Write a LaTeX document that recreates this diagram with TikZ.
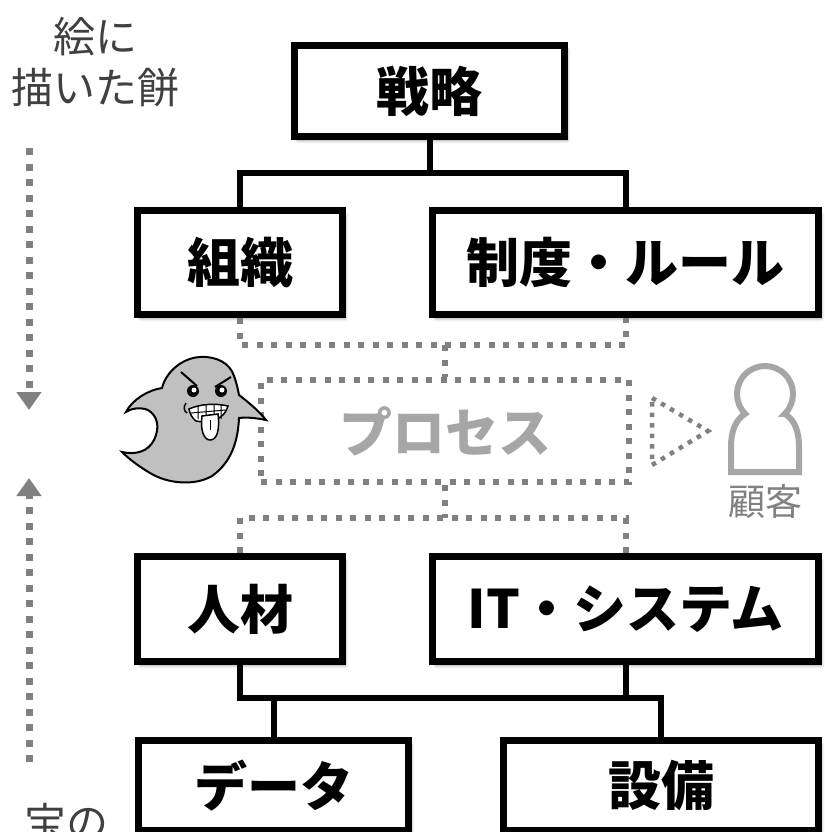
\documentclass[tikz,border=0pt]{standalone}
\usepackage{fontspec}
\usepackage{tikz}
\usetikzlibrary{positioning,arrows.meta,shadows.blur}

\newfontfamily\jpfont{Noto Sans CJK JP}
\definecolor{dotgray}{HTML}{808080}
\definecolor{procgray}{HTML}{A6A6A6}
\definecolor{notegray}{HTML}{404040}
\definecolor{ghostgray}{HTML}{C0C0C0}

\begin{document}
\begin{tikzpicture}[x=1pt, y=-1pt, line join=miter, on grid,
    box/.style={draw, line width=7pt, fill=white, inner sep=0pt,
      font=\jpfont\bfseries\fontsize{53}{60}\selectfont,
      blur shadow={shadow xshift=3pt, shadow yshift=-4pt,
        shadow blur radius=3pt, shadow opacity=40}},
    link/.style={line width=6pt},
    flow/.style={draw=dotgray, line width=6pt, dash pattern=on 6pt off 8.5pt},
    side/.style={draw=dotgray, line width=7pt, dash pattern=on 7pt off 8.5pt,
      -{Triangle[width=24pt, length=18pt, fill=dotgray]}},
    note/.style={text=notegray, align=center, inner sep=0pt,
      font=\jpfont\fontsize{42}{51}\selectfont}]

   \useasboundingbox (0,0) rectangle (824,832);

   \node[box, minimum width=270pt, minimum height=91pt] (strategy) at (429.5,91) {戦略};
   \node[box, minimum width=205pt, minimum height=104pt] (org) at (240,262.5) {組織};
   \node[box, minimum width=386pt, minimum height=104pt, right=385.5pt of org] (rules) {制度・ルール};
   \node[box, minimum width=205pt, minimum height=105pt, below=346.5pt of org] (staff) {人材};
   \node[box, minimum width=386pt, minimum height=105pt, below=346.5pt of rules] (it) {IT・システム};
   \node[box, minimum width=270pt, minimum height=90pt] (data) at (273.5,785.5) {データ};
   \node[box, minimum width=315pt, minimum height=90pt] (equip) at (661,785.5) {設備};

   \node[flow, minimum width=368pt, minimum height=102pt, inner sep=0pt, text=procgray,
     font=\jpfont\bfseries\fontsize{53}{60}\selectfont] (process) at (445,431) {プロセス};

   \coordinate (topbus) at (429.5,173);
   \coordinate (lowbus) at (0,698);
   \coordinate (upjoin) at (445,345);
   \coordinate (downjoin) at (445,518);

   \draw[link] (strategy) -- (topbus);
   \draw[link] (org.north) |- (topbus) -| (rules.north);
   \draw[link] (staff.south) -- (staff.south |- lowbus) -- (equip.north |- lowbus) -- (equip.north);
   \draw[link] (it.south) -- (it.south |- lowbus);
   \draw[link] (data.north) -- (data.north |- lowbus);

   \draw[flow] (org.south) |- (upjoin) -| (rules.south);
   \draw[flow] (upjoin) -- (process.north);
   \draw[flow] (process.south) -- (downjoin);
   \draw[flow] (staff.north) |- (downjoin) -| (it.north);

   % towards the customer
   \draw[draw=dotgray, line width=4.5pt, dash pattern=on 4.5pt off 6pt]
      (652,398) -- (708,431) -- (652,465) -- cycle;
   \draw[procgray, line width=6pt]
      (784.8,413.8) .. controls (795,420) and (799,432) .. (799,447) -- (799,472)
      -- (731,472) -- (731,447) .. controls (731,432) and (735,420) .. (745.2,413.8)
      arc[start angle=225, end angle=-45, radius=28pt] -- cycle;
   \node[text=dotgray, inner sep=0pt, font=\jpfont\fontsize{37}{40}\selectfont] (customer) at (765,501) {顧客};

   % left side
   \node[note, anchor=north] (dream) at (95,17) {絵に\\描いた餅};
   \node[note, anchor=north] (waste) at (66,803) {宝の};
   \coordinate (downfrom) at (29,148);
   \coordinate (downto) at (29,410);
   \coordinate (upfrom) at (29,762);
   \coordinate (upto) at (29,478);
   \draw[side] (downfrom) -- (downto);
   \draw[side] (upfrom) -- (upto);

   % ghost
   \filldraw[fill=ghostgray, line width=2pt]
      (200,357) .. controls (216,356) and (230,363) .. (234,376)
      .. controls (237,384) and (238,390) .. (239,395)
      .. controls (248,402) and (258,410) .. (266,420)
      .. controls (256,418) and (247,417) .. (239,418)
      .. controls (238,440) and (232,462) .. (212,476)
      .. controls (195,486) and (168,484) .. (150,473)
      .. controls (140,467) and (130,460) .. (122,452)
      .. controls (135,455) and (148,452) .. (154,440)
      .. controls (160,428) and (158,416) .. (148,410)
      .. controls (140,407) and (132,408) .. (126,412)
      .. controls (132,400) and (148,390) .. (162,388)
      .. controls (166,372) and (182,358) .. (200,357) -- cycle;
   \draw[line width=2pt] (181,372) -- (197,386) (231,377) -- (215,387);
   \fill (193,391) circle[radius=6pt] (221,391) circle[radius=6pt];
   \fill[white] (194,390) circle[radius=2.5pt] (222,390) circle[radius=2.5pt];
   \draw[line width=1.5pt] (186,403) .. controls (183,407) and (184,411) .. (187,413);
   \filldraw[fill=white, line width=1.5pt]
      (189,409) .. controls (200,404) and (215,403) .. (228,406)
      .. controls (225,418) and (212,424) .. (196,421)
      .. controls (192,418) and (190,414) .. cycle;
   \draw[line width=1pt] (191,413) -- (226,410) (198,406) -- (198,419) (206,405) -- (206,421)
      (214,405) -- (214,421) (221,405) -- (221,419);
   \filldraw[fill=white, line width=1.5pt]
      (202,416) .. controls (200,430) and (204,440) .. (210,440)
      .. controls (217,440) and (220,430) .. (218,414) -- cycle;
   \draw[line width=1pt] (210,420) -- (210,430);
\end{tikzpicture}
\end{document}
